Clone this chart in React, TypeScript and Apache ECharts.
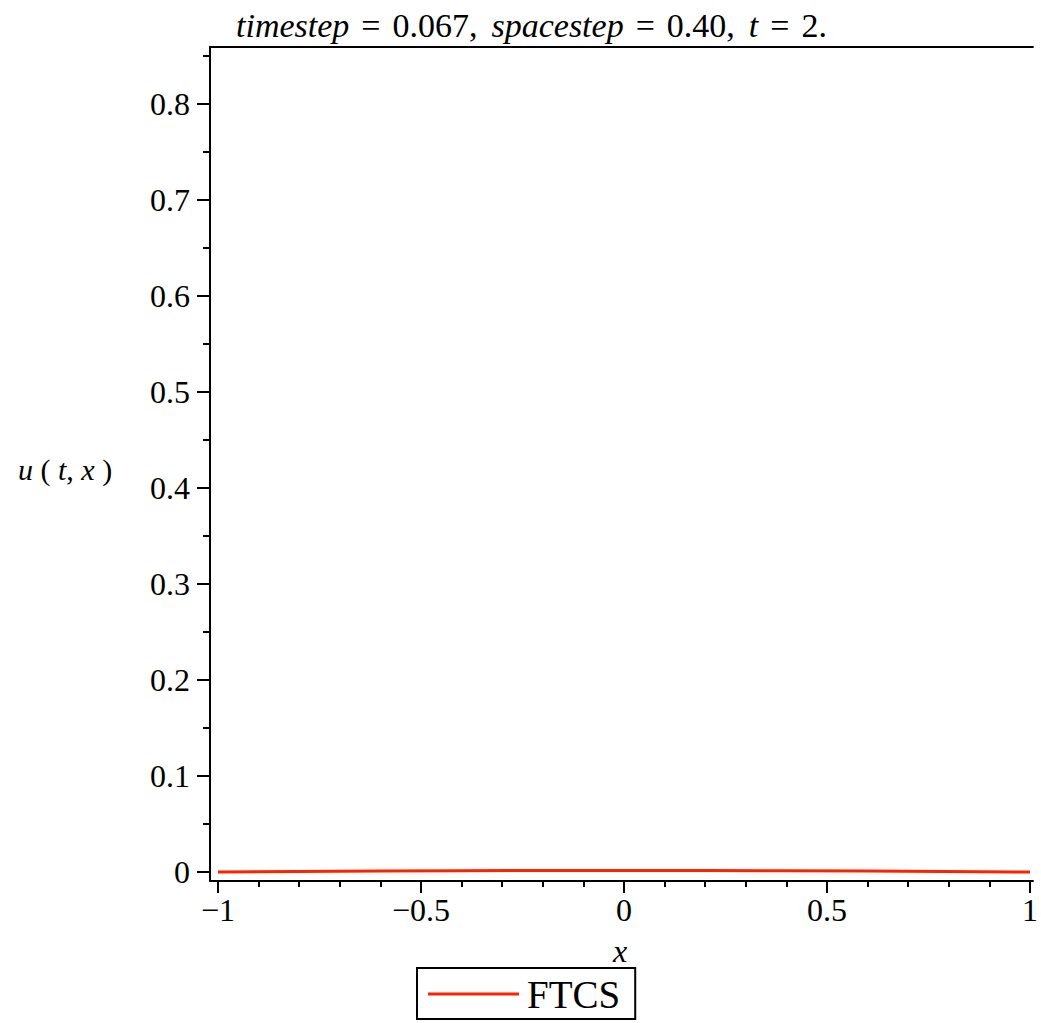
import React, { useEffect, useRef } from "react";
import * as echarts from "echarts";

const xValues = [-1, -0.6, -0.2, 0.2, 0.6, 1];
const ftcsValues = [0, 0.0009, 0.0015, 0.0015, 0.0009, 0];
const xMajorTicks = [-1, -0.5, 0, 0.5, 1];
const xMinorTicks = [-0.9, -0.8, -0.7, -0.6, -0.4, -0.3, -0.2, -0.1, 0.1, 0.2, 0.3, 0.4, 0.6, 0.7, 0.8, 0.9];
const yMajorTicks = [0, 0.1, 0.2, 0.3, 0.4, 0.5, 0.6, 0.7, 0.8];
const yMinorTicks = [0.05, 0.15, 0.25, 0.35, 0.45, 0.55, 0.65, 0.75, 0.85];
const seriesName = "FTCS";

const FONT = "'Liberation Serif', 'Times New Roman', serif";

export default function App() {
  const ref = useRef<HTMLDivElement>(null);
  useEffect(() => {
    if (!ref.current) return;
    const chart = echarts.init(ref.current, undefined, { renderer: "svg" });
    const xMin = -1.0195, xMax = 1.0073, yMin = -0.0094, yMax = 0.8597;
    const fmt = (v: number) => {
      if (v === 0) return "0";
      return (v < 0 ? "\u2212" : "") + String(Math.abs(v));
    };
    const TS = 34;
    const it = { fontFamily: FONT, fontStyle: "italic", fontSize: TS, color: "#000" };
    const up = { fontFamily: FONT, fontStyle: "normal", fontSize: TS, color: "#000" };
    const eq = { fontFamily: FONT, fontStyle: "normal", fontSize: TS, color: "#000", padding: [0, 12, 0, 12] };
    const cm = { fontFamily: FONT, fontStyle: "normal", fontSize: TS, color: "#000", padding: [0, 14, 0, 0] };
    const LS = 30;
    const it2 = { fontFamily: FONT, fontStyle: "italic", fontSize: LS, color: "#000" };
    const up2 = { fontFamily: FONT, fontStyle: "normal", fontSize: LS, color: "#000" };
    const baseX = { type: "value", min: xMin, max: xMax, splitLine: { show: false } };
    const baseY = { type: "value", min: yMin, max: yMax, splitLine: { show: false } };
    chart.setOption({
      animation: false,
      grid: { left: 210, right: 0, top: 46.7, bottom: 142, containLabel: false },
      xAxis: [
        {
          ...baseX,
          position: "bottom",
          axisLine: { show: true, onZero: false, lineStyle: { color: "#000", width: 2 } },
          axisTick: { show: true, customValues: xMajorTicks, length: 12, lineStyle: { color: "#000", width: 2 } },
          axisLabel: { show: true, customValues: xMajorTicks, formatter: fmt, margin: 13, fontFamily: FONT, fontSize: 32, color: "#000" },
        },
        {
          ...baseX,
          position: "bottom",
          axisLine: { show: false, onZero: false },
          axisTick: { show: true, customValues: xMinorTicks, length: 6, lineStyle: { color: "#000", width: 2 } },
          axisLabel: { show: false },
        },
        {
          ...baseX,
          position: "top",
          axisLine: { show: true, onZero: false, lineStyle: { color: "#000", width: 2 } },
          axisTick: { show: false },
          axisLabel: { show: false },
        },
      ],
      yAxis: [
        {
          ...baseY,
          position: "left",
          axisLine: { show: true, onZero: false, lineStyle: { color: "#000", width: 2 } },
          axisTick: { show: true, customValues: yMajorTicks, length: 13, lineStyle: { color: "#000", width: 2 } },
          axisLabel: { show: true, customValues: yMajorTicks, formatter: fmt, margin: 20, fontFamily: FONT, fontSize: 32, color: "#000" },
        },
        {
          ...baseY,
          position: "left",
          axisLine: { show: false, onZero: false },
          axisTick: { show: true, customValues: yMinorTicks, length: 7, lineStyle: { color: "#000", width: 2 } },
          axisLabel: { show: false },
        },
      ],
      legend: {
        left: 417,
        top: 968,
        orient: "horizontal",
        data: [{ name: seriesName, icon: "rect" }],
        itemWidth: 91,
        itemHeight: 3,
        itemGap: 0,
        padding: [5, 15, 4, 11],
        borderColor: "#000",
        borderWidth: 2,
        textStyle: { fontFamily: FONT, fontSize: 39, color: "#000", padding: [0, 0, 0, 3], lineHeight: 42 },
      },
      series: [
        {
          name: seriesName,
          type: "line",
          xAxisIndex: 0,
          yAxisIndex: 0,
          data: xValues.map((x, i) => [x, ftcsValues[i]]),
          showSymbol: false,
          smooth: true,
          lineStyle: { color: "#ff2200", width: 3 },
          itemStyle: { color: "#ff2200" },
        },
      ],
      graphic: [
        {
          type: "text",
          left: 236,
          top: 8,
          style: {
            text: "{i|timestep}{e|=}{c|0.067,}{i|spacestep}{e|=}{c|0.40,}{i|t}{e|=}{n|2.}",
            rich: { i: it, n: up, e: eq, c: cm },
            fontFamily: FONT,
            fontSize: TS,
          },
        },
        {
          type: "text",
          left: 18,
          top: 454,
          style: {
            text: "{i|u}{n| ( }{i|t}{n|, }{i|x}{n| )}",
            rich: { i: it2, n: up2 },
            fontFamily: FONT,
            fontSize: LS,
          },
        },
        {
          type: "text",
          left: 613,
          top: 935,
          style: { text: "x", fontFamily: FONT, fontStyle: "italic", fontSize: 32, fill: "#000" },
        },
      ],
    });
    return () => chart.dispose();
  }, []);
  return <div ref={ref} style={{ position: "absolute", left: 0, top: 0, width: 1041, height: 1023 }} />;
}
